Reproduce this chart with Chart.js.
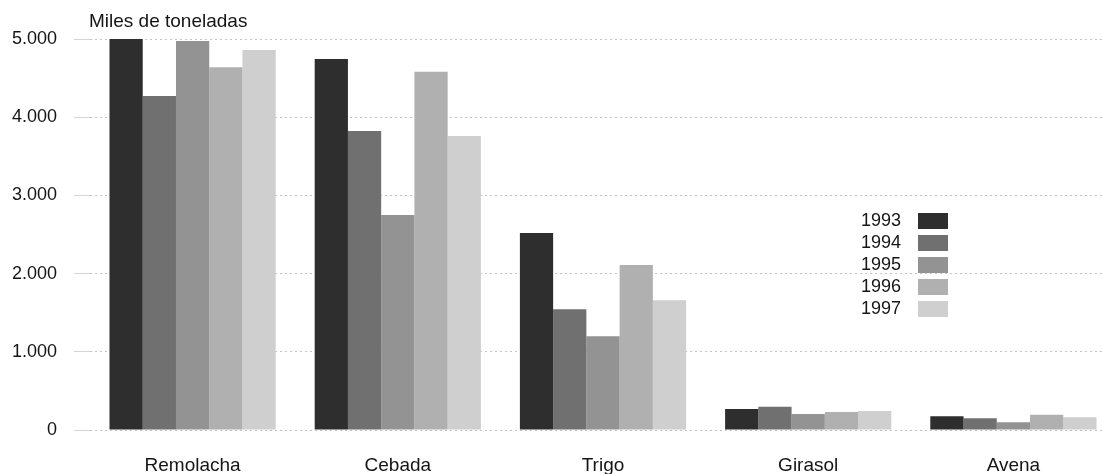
<!DOCTYPE html>
<html>
<head>
<meta charset="utf-8">
<script src="https://cdn.jsdelivr.net/npm/chart.js@4/dist/chart.umd.min.js"></script>
<style>
    html, body { margin: 0; padding: 0; background: #fff; overflow: hidden; }
    #wrap { position: relative; width: 1118px; height: 474px; }
</style>
</head>
<body>
<div id="wrap"><canvas id="chart"></canvas></div>
<script>
// Production data, miles de toneladas
const cultivos = ['Remolacha', 'Cebada', 'Trigo', 'Girasol', 'Avena'];
const years = ['1993', '1994', '1995', '1996', '1997'];
const prod1993 = [5000, 4745, 2520, 268, 175];
const prod1994 = [4270, 3825, 1545, 298, 150];
const prod1995 = [4975, 2750, 1200, 205, 98];
const prod1996 = [4640, 4580, 2110, 230, 196];
const prod1997 = [4860, 3760, 1660, 243, 162];
const yTicks = [0, 1000, 2000, 3000, 4000, 5000];

const greys = ['#2e2e2e', '#707070', '#939393', '#b0b0b0', '#cfcfcf'];
const allValues = [prod1993, prod1994, prod1995, prod1996, prod1997];

// Spanish thousands separator (5.000)
const fmt = v => String(v).replace(/\B(?=(\d{3})+(?!\d))/g, '.');

const FONT = 'Liberation Sans, Arial, sans-serif';

// Unit label above the axis and legend with text left of the box
const extras = {
    id: 'extras',
    afterDraw(chart) {
        const ctx = chart.ctx;
        const area = chart.chartArea;
        ctx.save();
        ctx.fillStyle = '#151515';
        ctx.font = '19px ' + FONT;
        ctx.textAlign = 'left';
        ctx.textBaseline = 'alphabetic';
        ctx.fillText('Miles de toneladas', area.left - 1, area.top - 12);

        ctx.font = '18px ' + FONT;
        ctx.textAlign = 'right';
        ctx.textBaseline = 'middle';
        chart.data.datasets.forEach((ds, i) => {
            const y = 221 + i * 22;
            ctx.fillStyle = '#151515';
            ctx.fillText(ds.label, 901, y);
            ctx.fillStyle = ds.backgroundColor;
            ctx.fillRect(918, y - 8, 30, 16);
        });
        ctx.restore();
    }
};

const ctx = document.getElementById('chart').getContext('2d');
new Chart(ctx, {
    type: 'bar',
    data: {
        labels: cultivos,
        datasets: years.map((yr, i) => ({
            label: yr,
            data: allValues[i],
            backgroundColor: greys[i],
            borderWidth: 0,
            categoryPercentage: 0.81,
            barPercentage: 1.0
        }))
    },
    options: {
        responsive: true,
        maintainAspectRatio: false,
        animation: false,
        layout: { padding: { top: 39, right: 2, left: 0, bottom: 0 } },
        plugins: {
            legend: { display: false },
            tooltip: { enabled: false }
        },
        scales: {
            x: {
                grid: { display: false, drawTicks: false },
                border: { display: false },
                ticks: {
                    padding: 24,
                    color: '#151515',
                    font: { family: FONT, size: 19 }
                },
                afterFit(scale) { scale.height = 44; }
            },
            y: {
                min: 0,
                max: 5000,
                afterBuildTicks(scale) {
                    scale.ticks = yTicks.map(v => ({ value: v }));
                },
                grid: {
                    color: '#c4c4c4',
                    lineWidth: 1,
                    tickLength: 16,
                    drawTicks: true,
                    tickColor: '#d4d4d4'
                },
                border: { display: false, dash: [2, 3] },
                ticks: {
                    padding: 17,
                    color: '#151515',
                    font: { family: FONT, size: 18 },
                    callback: v => fmt(v)
                },
                afterFit(scale) { scale.width = 90; }
            }
        }
    },
    plugins: [extras]
});
</script>
</body>
</html>
